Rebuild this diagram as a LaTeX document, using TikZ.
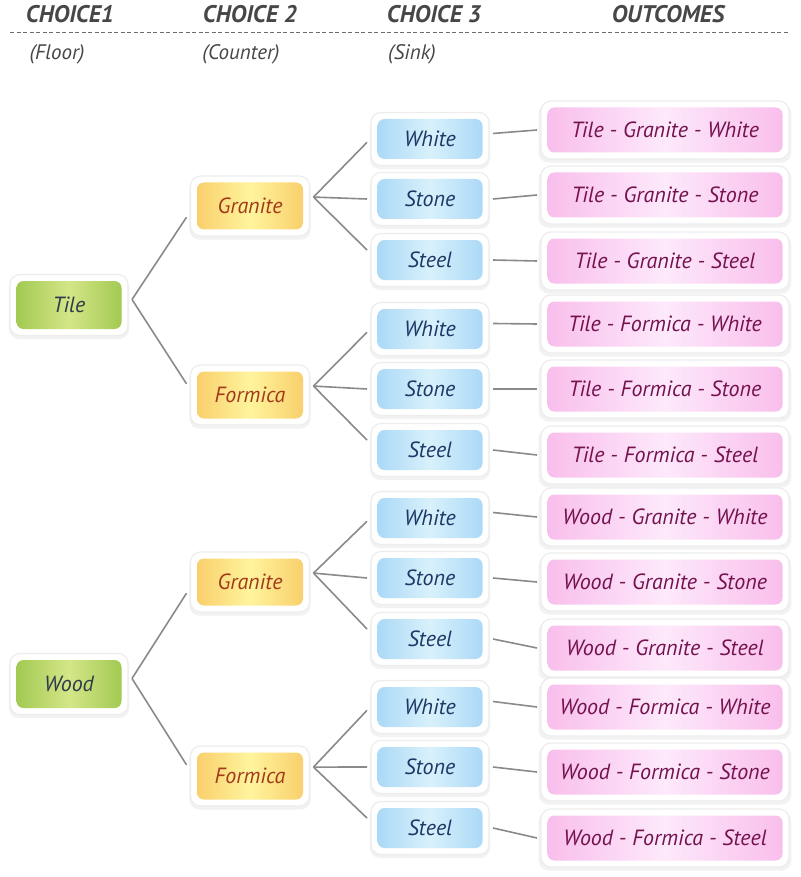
\documentclass[tikz,border=0pt]{standalone}
\usepackage{fontspec}
\setmainfont{PT Sans}
\usepackage{tikz}
\usetikzlibrary{shadows}
\definecolor{leafgreen}{HTML}{9CC64B}
\definecolor{leaflight}{HTML}{D4E688}
\definecolor{leaftext}{HTML}{2F3B4C}
\definecolor{sandorange}{HTML}{F8CB66}
\definecolor{sandlight}{HTML}{FFF49D}
\definecolor{sandtext}{HTML}{A23A1C}
\definecolor{skyblue}{HTML}{A6D6F6}
\definecolor{skylight}{HTML}{D8F1FB}
\definecolor{skytext}{HTML}{1D3866}
\definecolor{rosepink}{HTML}{F9BCEB}
\definecolor{roselight}{HTML}{FDE9FB}
\definecolor{rosetext}{HTML}{741250}
\definecolor{headgrey}{HTML}{474747}
\definecolor{linkgrey}{HTML}{8A8A8A}
\tikzset{
  card/.style={fill=white, draw=black!7, line width=1.2pt, rounded corners=10pt,
    inner sep=0pt, outer sep=4pt,
    font=\itshape\fontsize{22}{25}\selectfont,
    drop shadow={opacity=0.10, shadow scale=1.02, shadow xshift=0pt, shadow yshift=-3pt}},
  inset/.style 2 args={path picture={
    \shade[rounded corners=7pt, left color=#1, right color=#1, middle color=#2]
      ([shift={(6.5pt,6.5pt)}]path picture bounding box.south west) rectangle
      ([shift={(-6.5pt,-6.5pt)}]path picture bounding box.north east);}},
  floorcard/.style={card, minimum width=118pt, minimum height=61pt, inset={leafgreen}{leaflight}, text=leaftext},
  countercard/.style={card, minimum width=119pt, minimum height=60pt, inset={sandorange}{sandlight}, text=sandtext},
  sinkcard/.style={card, minimum width=118pt, minimum height=53pt, inset={skyblue}{skylight}, text=skytext},
  outcard/.style={card, minimum width=248pt, minimum height=58pt, inset={rosepink}{roselight}, text=rosetext},
  link/.style={draw=linkgrey, line width=1.6pt},
  headline/.style={text=headgrey, font=\bfseries\itshape\fontsize{24}{27}\selectfont},
  subline/.style={text=headgrey, font=\itshape\fontsize{21}{24}\selectfont}
}

\begin{document}
\begin{tikzpicture}[x=1pt, y=-1pt]
  \fill[white] (0,0) rectangle (800,877);
  \useasboundingbox (0,0) rectangle (800,877);

  % column heads
  \node[headline] (headFloor) at (70,14) {CHOICE1};
  \node[headline] (headCounter) at (250,14) {CHOICE 2};
  \node[headline] (headSink) at (434,14) {CHOICE 3};
  \node[headline] (headOut) at (668,14) {OUTCOMES};
  \draw[headgrey!80, line width=1pt, dash pattern=on 4pt off 2.5pt] (10,33) -- (788,33);
  \node[subline] (subFloor) at (57,54) {(Floor)};
  \node[subline] (subCounter) at (241,54) {(Counter)};
  \node[subline] (subSink) at (412,54) {(Sink)};

  % choice 1 and choice 2
  \node[floorcard] (tile) at (69,305) {Tile};
  \node[floorcard] (wood) at (69,684) {Wood};
  \node[countercard] (tileGran) at (250,206) {Granite};
  \node[countercard] (tileForm) at (250,395) {Formica};
  \node[countercard] (woodGran) at (250,582) {Granite};
  \node[countercard] (woodForm) at (250,776) {Formica};
  \draw[link] (tile.5) -- (tileGran.190);
  \draw[link] (tile.5) -- (tileForm.170);
  \draw[link] (wood.5) -- (woodGran.190);
  \draw[link] (wood.5) -- (woodForm.170);

  % choice 3 and outcomes
  \foreach \g/\c/\y/\f/\m/\v in {A/tileGran/139/Tile/Granite/130, B/tileForm/329/Tile/Formica/324,
      C/woodGran/518/Wood/Granite/517, D/woodForm/707/Wood/Formica/707}
  {
    \node[sinkcard] (white\g) at (430,\y) {White};
    \node[sinkcard] (stone\g) at (430,\y+60) {Stone};
    \node[sinkcard] (steel\g) at (430,\y+121) {Steel};
    \node[outcard] (outWhite\g) at (665,\v) {\f{} - \m{} - White};
    \node[outcard] (outStone\g) at (665,\v+65) {\f{} - \m{} - Stone};
    \node[outcard] (outSteel\g) at (665,\v+131) {\f{} - \m{} - Steel};
    \draw[link] (\c.8) -- (white\g.183);
    \draw[link] (\c.8) -- (stone\g.west);
    \draw[link] (\c.8) -- (steel\g.171);
    \draw[link] (white\g.5) -- (outWhite\g.west);
    \draw[link] (stone\g.east) -- (outStone\g.west);
    \draw[link] (steel\g.east) -- (outSteel\g.west);
  }
\end{tikzpicture}
\end{document}
